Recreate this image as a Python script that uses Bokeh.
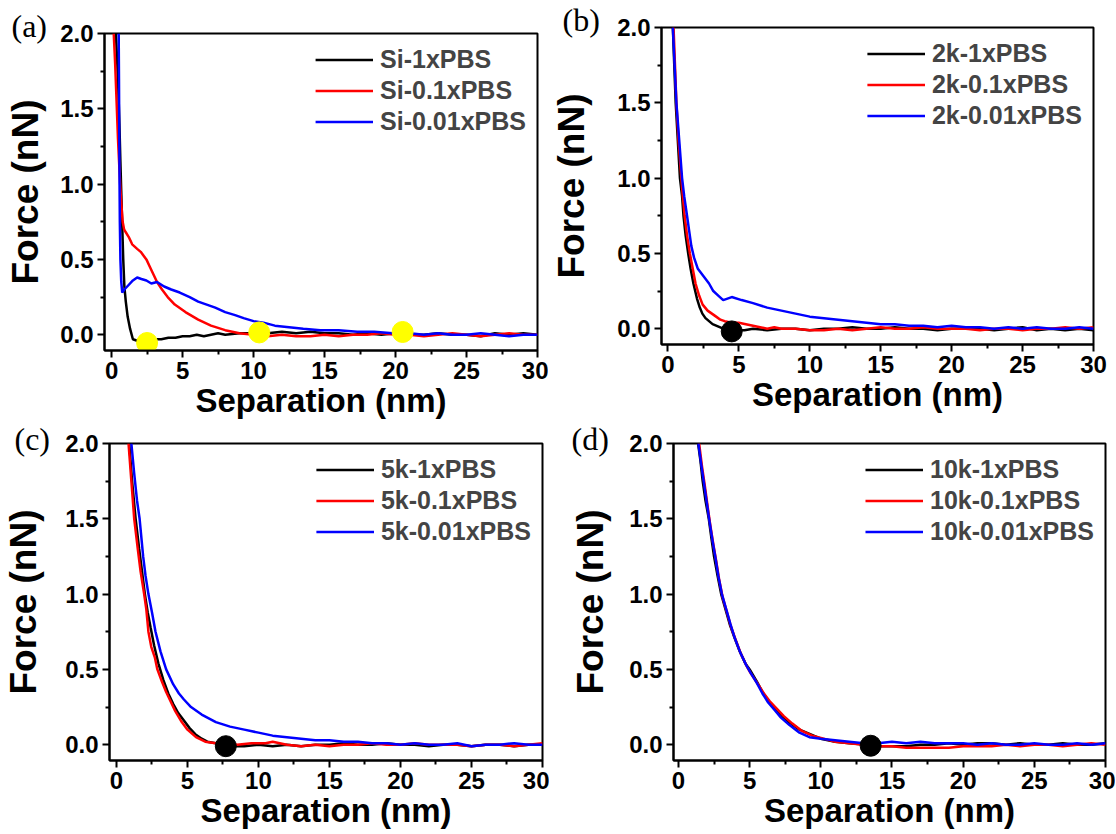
from bokeh.plotting import figure
from bokeh.layouts import column, row
from bokeh.models import FixedTicker, PrintfTickFormatter, Range1d
from bokeh.embed import file_html
from bokeh.resources import INLINE

# ---------------- data ----------------
# panel (a)
a_labels = ["Si-1xPBS", "Si-0.1xPBS", "Si-0.01xPBS"]
a_black_x = [0.30, 0.45, 0.55, 0.62, 0.68, 0.75, 0.82, 0.90, 1.00, 1.13, 1.30, 1.50, 1.80, 2.20, 2.60, 3.00, 3.50, 4.00, 4.50, 5.00, 5.50, 6.00, 6.50, 7.00, 7.50, 8.00, 9.0, 10.0, 11.0, 12.0, 13.0, 14.0, 15.0, 16.0, 17.0, 18.0, 19.0, 20.0, 21.0, 22.0, 23.0, 24.0, 25.0, 26.0, 27.0, 28.0, 29.0, 30.0]
a_black_y = [2.00, 1.70, 1.40, 1.15, 0.95, 0.72, 0.50, 0.32, 0.22, 0.12, 0.04, -0.03, -0.04, -0.03, -0.04, -0.03, -0.03, -0.02, -0.02, -0.01, -0.01, 0.00, -0.01, 0.00, 0.01, 0.00, 0.01, 0.01, 0.01, 0.02, 0.01, 0.02, 0.01, 0.01, 0.00, 0.01, 0.00, 0.01, 0.00, 0.00, 0.01, 0.00, 0.00, -0.01, 0.01, 0.00, 0.01, 0.00]
a_red_x = [0.15, 0.25, 0.35, 0.45, 0.55, 0.63, 0.70, 0.78, 0.88, 1.00, 1.20, 1.45, 1.80, 2.05, 2.45, 2.70, 2.95, 3.20, 3.55, 3.95, 4.45, 5.20, 6.10, 7.00, 8.00, 9.00, 10.0, 11.0, 12.0, 13.0, 14.0, 15.0, 16.0, 17.0, 18.0, 19.0, 20.0, 21.0, 22.0, 23.0, 24.0, 25.0, 26.0, 27.0, 28.0, 29.0, 30.0]
a_red_y = [2.00, 1.80, 1.55, 1.30, 1.10, 0.95, 0.85, 0.75, 0.70, 0.68, 0.65, 0.60, 0.57, 0.55, 0.50, 0.45, 0.40, 0.35, 0.30, 0.25, 0.20, 0.15, 0.10, 0.06, 0.03, 0.01, 0.00, -0.01, 0.00, -0.01, -0.01, 0.00, -0.01, 0.00, 0.00, 0.01, 0.00, 0.00, -0.01, 0.00, 0.01, 0.00, -0.01, 0.00, 0.01, 0.00, 0.00]
a_blue_x = [0.50, 0.52, 0.54, 0.56, 0.58, 0.62, 0.68, 0.75, 0.90, 1.20, 1.50, 1.80, 2.10, 2.45, 2.80, 3.20, 3.70, 4.20, 4.80, 5.50, 6.10, 6.70, 7.30, 8.00, 8.70, 9.30, 10.0, 10.7, 11.5, 12.5, 13.5, 14.7, 16.0, 17.3, 18.5, 19.8, 21.0, 22.0, 23.0, 24.0, 25.0, 26.0, 27.0, 28.0, 29.0, 30.0]
a_blue_y = [2.00, 1.70, 1.35, 1.00, 0.75, 0.50, 0.35, 0.28, 0.30, 0.33, 0.36, 0.38, 0.37, 0.36, 0.34, 0.35, 0.32, 0.30, 0.28, 0.25, 0.22, 0.20, 0.18, 0.15, 0.13, 0.11, 0.09, 0.08, 0.06, 0.05, 0.04, 0.03, 0.03, 0.02, 0.02, 0.01, 0.01, 0.00, 0.01, 0.00, 0.00, 0.01, 0.00, -0.01, 0.00, 0.00]
a_mark_x = [2.5, 10.4, 20.5]
a_mark_y = [-0.055, 0.015, 0.018]

# panel (b)
b_labels = ["2k-1xPBS", "2k-0.1xPBS", "2k-0.01xPBS"]
b_black_x = [0.35, 0.45, 0.55, 0.70, 0.85, 1.00, 1.10, 1.25, 1.43, 1.60, 1.80, 2.05, 2.25, 2.43, 2.65, 2.90, 3.15, 3.40, 3.65, 3.90, 4.15, 4.40, 4.80, 5.40, 6.0, 7.0, 8.0, 9.0, 10.0, 11.0, 12.0, 13.0, 14.0, 15.0, 16.0, 17.0, 18.0, 19.0, 20.0, 21.0, 22.0, 23.0, 24.0, 25.0, 26.0, 27.0, 28.0, 29.0, 30.0]
b_black_y = [2.00, 1.75, 1.50, 1.25, 1.00, 0.88, 0.75, 0.62, 0.50, 0.40, 0.30, 0.20, 0.14, 0.10, 0.07, 0.05, 0.03, 0.02, 0.01, 0.00, -0.01, -0.02, -0.01, -0.01, 0.00, -0.01, 0.00, 0.00, -0.01, 0.00, 0.00, 0.01, 0.00, 0.00, 0.01, 0.00, 0.00, -0.01, 0.00, 0.00, 0.00, -0.01, 0.00, 0.01, -0.01, 0.00, -0.01, 0.00, -0.01]
b_red_x = [0.40, 0.50, 0.60, 0.75, 0.95, 1.05, 1.18, 1.35, 1.55, 1.75, 1.95, 2.20, 2.45, 2.80, 3.10, 3.40, 3.70, 4.00, 4.50, 5.00, 5.50, 6.0, 6.5, 7.0, 7.5, 8.0, 9.0, 10.0, 11.0, 12.0, 13.0, 14.0, 15.0, 16.0, 17.0, 18.0, 19.0, 20.0, 21.0, 22.0, 23.0, 24.0, 25.0, 26.0, 27.0, 28.0, 29.0, 30.0]
b_red_y = [2.00, 1.75, 1.50, 1.25, 1.00, 0.88, 0.75, 0.62, 0.50, 0.40, 0.30, 0.22, 0.16, 0.12, 0.10, 0.08, 0.06, 0.05, 0.04, 0.04, 0.03, 0.02, 0.01, 0.00, 0.01, 0.00, 0.00, -0.01, -0.01, 0.00, -0.01, 0.00, 0.01, 0.00, 0.00, 0.01, 0.00, 0.00, 0.00, -0.01, 0.00, 0.00, -0.01, 0.00, 0.00, 0.01, 0.00, 0.01]
b_blue_x = [0.35, 0.45, 0.60, 0.80, 1.00, 1.15, 1.35, 1.50, 1.65, 1.85, 2.10, 2.50, 2.90, 3.20, 3.55, 3.90, 4.50, 5.20, 6.0, 7.0, 8.0, 9.0, 10.0, 11.0, 12.0, 13.0, 14.0, 15.0, 16.0, 17.0, 18.0, 19.0, 20.0, 21.0, 22.0, 23.0, 24.0, 25.0, 26.0, 27.0, 28.0, 29.0, 30.0]
b_blue_y = [2.00, 1.80, 1.50, 1.25, 1.00, 0.88, 0.75, 0.65, 0.55, 0.47, 0.40, 0.35, 0.30, 0.25, 0.22, 0.19, 0.21, 0.19, 0.17, 0.14, 0.12, 0.10, 0.08, 0.07, 0.06, 0.05, 0.04, 0.03, 0.03, 0.02, 0.02, 0.01, 0.02, 0.01, 0.01, 0.00, 0.01, 0.00, 0.01, 0.00, 0.00, 0.01, 0.00]
b_mark_x = [4.5]
b_mark_y = [-0.018]

# panel (c)
c_labels = ["5k-1xPBS", "5k-0.1xPBS", "5k-0.01xPBS"]
c_black_x = [0.90, 1.10, 1.35, 1.60, 1.80, 2.00, 2.20, 2.40, 2.65, 2.95, 3.30, 3.65, 4.00, 4.35, 4.75, 5.15, 5.55, 6.00, 6.40, 7.00, 7.60, 8.25, 9.0, 10.0, 11.0, 12.0, 13.0, 14.0, 15.0, 16.0, 17.0, 18.0, 19.0, 20.0, 21.0, 22.0, 23.0, 24.0, 25.0, 26.0, 27.0, 28.0, 29.0, 30.0]
c_black_y = [2.00, 1.75, 1.50, 1.30, 1.15, 1.00, 0.88, 0.78, 0.66, 0.54, 0.43, 0.34, 0.27, 0.21, 0.16, 0.11, 0.07, 0.04, 0.02, 0.01, 0.00, -0.01, -0.01, 0.00, -0.01, 0.00, -0.01, 0.00, 0.00, 0.01, 0.00, 0.00, 0.01, 0.00, 0.00, -0.01, 0.00, 0.00, -0.01, 0.00, 0.00, -0.01, 0.00, 0.00]
c_red_x = [0.85, 1.05, 1.25, 1.50, 1.70, 1.95, 2.10, 2.25, 2.45, 2.70, 2.88, 3.20, 3.50, 3.75, 4.10, 4.60, 5.00, 5.60, 6.25, 7.00, 7.60, 8.5, 9.5, 10.5, 11.0, 12.0, 13.0, 14.0, 15.0, 16.0, 17.0, 18.0, 19.0, 20.0, 21.0, 22.0, 23.0, 24.0, 25.0, 26.0, 27.0, 28.0, 29.0, 30.0]
c_red_y = [2.00, 1.75, 1.50, 1.30, 1.15, 1.00, 0.90, 0.75, 0.65, 0.58, 0.50, 0.42, 0.35, 0.30, 0.23, 0.15, 0.10, 0.05, 0.02, 0.01, 0.02, 0.00, 0.01, 0.01, 0.02, 0.00, -0.01, 0.00, -0.01, 0.00, 0.00, 0.01, 0.00, 0.00, 0.01, 0.00, 0.00, 0.00, -0.01, 0.00, 0.00, -0.01, 0.00, 0.01]
c_blue_x = [1.05, 1.25, 1.45, 1.63, 1.88, 2.05, 2.25, 2.50, 2.75, 3.10, 3.50, 4.00, 4.40, 4.75, 5.25, 6.0, 7.0, 8.0, 9.0, 10.0, 11.0, 12.0, 13.0, 14.0, 15.0, 16.0, 17.0, 18.0, 19.0, 20.0, 21.0, 22.0, 23.0, 24.0, 25.0, 26.0, 27.0, 28.0, 29.0, 30.0]
c_blue_y = [2.00, 1.80, 1.62, 1.50, 1.25, 1.12, 1.00, 0.88, 0.75, 0.62, 0.50, 0.40, 0.34, 0.30, 0.25, 0.20, 0.15, 0.12, 0.10, 0.08, 0.06, 0.05, 0.04, 0.03, 0.03, 0.02, 0.02, 0.01, 0.01, 0.00, 0.01, 0.00, 0.00, 0.01, -0.01, 0.00, 0.00, 0.01, 0.00, 0.00]
c_mark_x = [7.7]
c_mark_y = [-0.01]

# panel (d)
d_labels = ["10k-1xPBS", "10k-0.1xPBS", "10k-0.01xPBS"]
d_black_x = [1.38, 1.55, 1.70, 1.90, 2.13, 2.30, 2.50, 2.75, 3.00, 3.30, 3.60, 3.90, 4.30, 4.70, 5.00, 5.50, 5.90, 6.25, 6.70, 7.15, 7.75, 8.50, 9.25, 10.0, 11.0, 12.0, 13.3, 14.0, 15.0, 16.0, 17.0, 18.0, 19.0, 20.0, 21.0, 22.0, 23.0, 24.0, 25.0, 26.0, 27.0, 28.0, 29.0, 30.0]
d_black_y = [2.00, 1.88, 1.75, 1.62, 1.50, 1.38, 1.25, 1.12, 1.00, 0.90, 0.80, 0.72, 0.62, 0.54, 0.50, 0.42, 0.35, 0.30, 0.25, 0.20, 0.15, 0.10, 0.07, 0.04, 0.02, 0.01, 0.00, -0.01, -0.01, -0.01, 0.00, 0.00, 0.01, 0.00, 0.01, 0.01, 0.00, 0.01, 0.00, 0.00, 0.01, 0.00, 0.00, 0.01]
d_red_x = [1.45, 1.65, 1.85, 2.05, 2.25, 2.45, 2.65, 2.85, 3.10, 3.40, 3.70, 4.00, 4.40, 4.80, 5.10, 5.60, 6.00, 6.40, 6.90, 7.40, 8.00, 8.70, 9.40, 10.2, 11.0, 12.0, 13.0, 14.0, 15.0, 16.0, 17.0, 18.0, 19.0, 20.0, 21.0, 22.0, 23.0, 24.0, 25.0, 26.0, 27.0, 28.0, 29.0, 30.0]
d_red_y = [2.00, 1.85, 1.72, 1.58, 1.45, 1.33, 1.22, 1.10, 0.98, 0.88, 0.78, 0.70, 0.60, 0.52, 0.47, 0.40, 0.34, 0.29, 0.24, 0.19, 0.14, 0.09, 0.06, 0.04, 0.02, 0.01, 0.00, -0.01, -0.01, -0.02, -0.02, -0.02, -0.02, -0.01, -0.01, -0.01, 0.00, -0.01, 0.00, 0.00, -0.01, 0.00, 0.01, 0.00]
d_blue_x = [1.40, 1.60, 1.80, 2.00, 2.20, 2.40, 2.60, 2.80, 3.05, 3.35, 3.65, 3.95, 4.35, 4.75, 5.05, 5.50, 5.90, 6.30, 6.75, 7.20, 7.80, 8.50, 9.20, 10.0, 11.0, 12.0, 13.0, 14.0, 15.0, 16.0, 17.0, 18.0, 19.0, 20.0, 21.0, 22.0, 23.0, 24.0, 25.0, 26.0, 27.0, 28.0, 29.0, 30.0]
d_blue_y = [2.00, 1.86, 1.73, 1.60, 1.47, 1.35, 1.24, 1.12, 1.00, 0.90, 0.80, 0.71, 0.61, 0.53, 0.48, 0.41, 0.34, 0.28, 0.23, 0.18, 0.13, 0.08, 0.05, 0.04, 0.03, 0.02, 0.01, 0.01, 0.02, 0.01, 0.02, 0.01, 0.01, 0.01, 0.00, 0.01, 0.00, 0.00, 0.01, 0.00, 0.00, 0.01, 0.00, 0.01]
d_mark_x = [13.5]
d_mark_y = [-0.007]

x_major = [0, 5, 10, 15, 20, 25, 30]
x_minor = [2.5, 7.5, 12.5, 17.5, 22.5, 27.5]
y_major = [0.0, 0.5, 1.0, 1.5, 2.0]
y_minor = [0.25, 0.75, 1.25, 1.75]

SANS = "Liberation Sans"
SERIF = "Liberation Serif"
COLORS = ["#000000", "#ff0000", "#0000ff"]


def panel(letter, series, labels, mk_x, mk_y, mk_color, x_start,
          fw, fh, bl, br, bt, bb, ylab_standoff, letter_dx, letter_standoff):
    p = figure(frame_width=fw, frame_height=fh,
               x_range=Range1d(x_start, 30), y_range=Range1d(-0.105, 2.0),
               output_backend="svg", toolbar_location=None,
               min_border_left=bl, min_border_right=br,
               min_border_top=bt, min_border_bottom=bb,
               background_fill_color="white", border_fill_color="white")
    p.xgrid.visible = False
    p.ygrid.visible = False
    p.outline_line_color = "black"
    p.outline_line_width = 2
    p.outline_line_alpha = 1.0

    for (xs, ys), lab, col in zip(series, labels, COLORS):
        p.line(xs, ys, line_color=col, line_width=2.5, legend_label=lab)
    p.scatter(mk_x, mk_y, size=21, fill_color=mk_color, line_color=mk_color)

    p.xaxis.ticker = FixedTicker(ticks=x_major, minor_ticks=x_minor)
    p.yaxis.ticker = FixedTicker(ticks=y_major, minor_ticks=y_minor)
    p.yaxis.formatter = PrintfTickFormatter(format="%.1f")
    p.xaxis.axis_label = "Separation (nm)"
    p.yaxis.axis_label = "Force (nN)"
    for ax in (p.xaxis[0], p.yaxis[0]):
        ax.axis_line_width = 2
        ax.axis_line_color = "black"
        ax.major_tick_line_width = 2
        ax.minor_tick_line_width = 2
        ax.major_tick_out = 7
        ax.major_tick_in = 0
        ax.minor_tick_out = 4
        ax.minor_tick_in = 0
        ax.major_label_text_font = SANS
        ax.major_label_text_font_style = "bold"
        ax.major_label_text_font_size = "24px"
        ax.major_label_text_color = "black"
        ax.axis_label_text_font = SANS
        ax.axis_label_text_font_style = "bold"
        ax.axis_label_text_color = "black"
    p.xaxis.axis_label_text_font_size = "33px"
    p.yaxis.axis_label_text_font_size = "37px"
    p.xaxis.major_label_standoff = 4
    p.xaxis.axis_label_standoff = 0
    p.yaxis.major_label_standoff = 4
    p.yaxis.axis_label_standoff = ylab_standoff

    lg = p.legend[0]
    lg.location = "top_right"
    lg.border_line_alpha = 0
    lg.background_fill_alpha = 0
    lg.label_text_font = SANS
    lg.label_text_font_style = "bold"
    lg.label_text_font_size = "25px"
    lg.glyph_width = 58
    lg.glyph_height = 31
    lg.label_height = 31
    lg.label_standoff = 7
    lg.spacing = 0
    lg.margin = 5
    lg.padding = 6

    # panel letter as the plot title, pulled down onto the frame's top edge
    p.title.text = letter
    p.title.align = "left"
    p.title.offset = letter_dx
    p.title.standoff = letter_standoff
    p.title.text_font = SERIF
    p.title.text_font_style = "normal"
    p.title.text_font_size = "32px"
    p.title.text_color = "black"
    return p


pa = panel("(a)", [(a_black_x, a_black_y), (a_red_x, a_red_y), (a_blue_x, a_blue_y)],
           a_labels, a_mark_x, a_mark_y, "#ffff00", -0.5, 433, 317, 104, 11, 33, 72, 11, -93, -20)
pb = panel("(b)", [(b_black_x, b_black_y), (b_red_x, b_red_y), (b_blue_x, b_blue_y)],
           b_labels, b_mark_x, b_mark_y, "#000000", -0.45, 432, 317, 109, 20, 27, 78, 22, -99, -20)
pc = panel("(c)", [(c_black_x, c_black_y), (c_red_x, c_red_y), (c_blue_x, c_blue_y)],
           c_labels, c_mark_x, c_mark_y, "#000000", -0.49, 433, 317, 108, 7, 21, 72, 18, -95, -26)
pd = panel("(d)", [(d_black_x, d_black_y), (d_red_x, d_red_y), (d_blue_x, d_blue_y)],
           d_labels, d_mark_x, d_mark_y, "#000000", -0.35, 432, 317, 124, 10, 21, 72, 15, -102, -26)

layout = column(row(column(pa), column(pb), spacing=0),
                row(column(pc), column(pd), spacing=0), spacing=0)
open("out.html", "w").write(file_html(layout, INLINE))
